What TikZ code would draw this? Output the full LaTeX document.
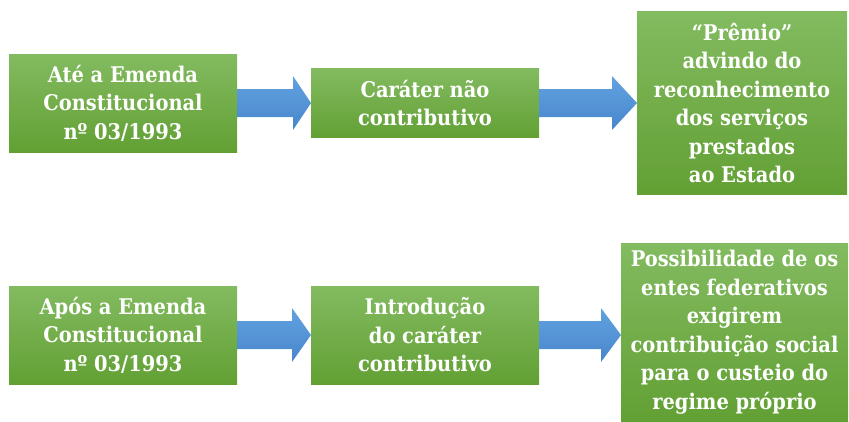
\documentclass[tikz,border=0pt]{standalone}
\usepackage{fontspec}
\setmainfont{DejaVu Serif Condensed}
\usetikzlibrary{calc}
\definecolor{gtop}{RGB}{131,187,96}
\definecolor{gbot}{RGB}{98,160,52}
\definecolor{btop}{RGB}{98,162,224}
\definecolor{bbot}{RGB}{72,134,204}
\tikzset{
  gbox/.style={inner sep=0pt, outer sep=0pt, top color=gtop, bottom color=gbot,
    text=white, align=center, font=\fontsize{21.6}{28.5}\selectfont\bfseries},
}
\newcommand{\blockarrow}[3]{% from, to, headlength
  \coordinate (tip) at (#2.west |- #1.east);
  \shade[top color=btop, bottom color=bbot]
    ($(#1.east)+(0,14)$) -- ($(tip)+(-#3,14)$) -- ($(tip)+(-#3,27)$)
    -- (tip) -- ($(tip)+(-#3,-27)$) -- ($(tip)+(-#3,-14)$)
    -- ($(#1.east)+(0,-14)$) -- cycle;}
\begin{document}
\begin{tikzpicture}[x=1pt,y=-1pt]
\useasboundingbox (0,0) rectangle (849,421);
% top row
\node[gbox, minimum width=228pt, minimum height=98pt] (b1) at (123,103)
  {Até a Emenda\\Constitucional\\nº 03/1993};
\node[gbox, minimum width=228pt, minimum height=69pt] (b2) at (425,103)
  {Caráter não\\contributivo};
\node[gbox, minimum width=210pt, minimum height=183pt] (b3) at (742,103)
  {“Prêmio”\\advindo do\\reconhecimento\\dos serviços\\prestados\\ao Estado};
% bottom row
\node[gbox, minimum width=228pt, minimum height=98pt] (b4) at (123,335)
  {Após a Emenda\\Constitucional\\nº 03/1993};
\node[gbox, minimum width=228pt, minimum height=98pt] (b5) at (425,335)
  {Introdução\\do caráter\\contributivo};
\node[gbox, minimum width=227pt, minimum height=178pt] (b6) at (734.5,332)
  {Possibilidade de os\\entes federativos\\exigirem\\contribuição social\\para o custeio do\\regime próprio};
% arrows
\blockarrow{b1}{b2}{18}
\blockarrow{b2}{b3}{25}
\blockarrow{b4}{b5}{19}
\blockarrow{b5}{b6}{20}
\end{tikzpicture}
\end{document}
